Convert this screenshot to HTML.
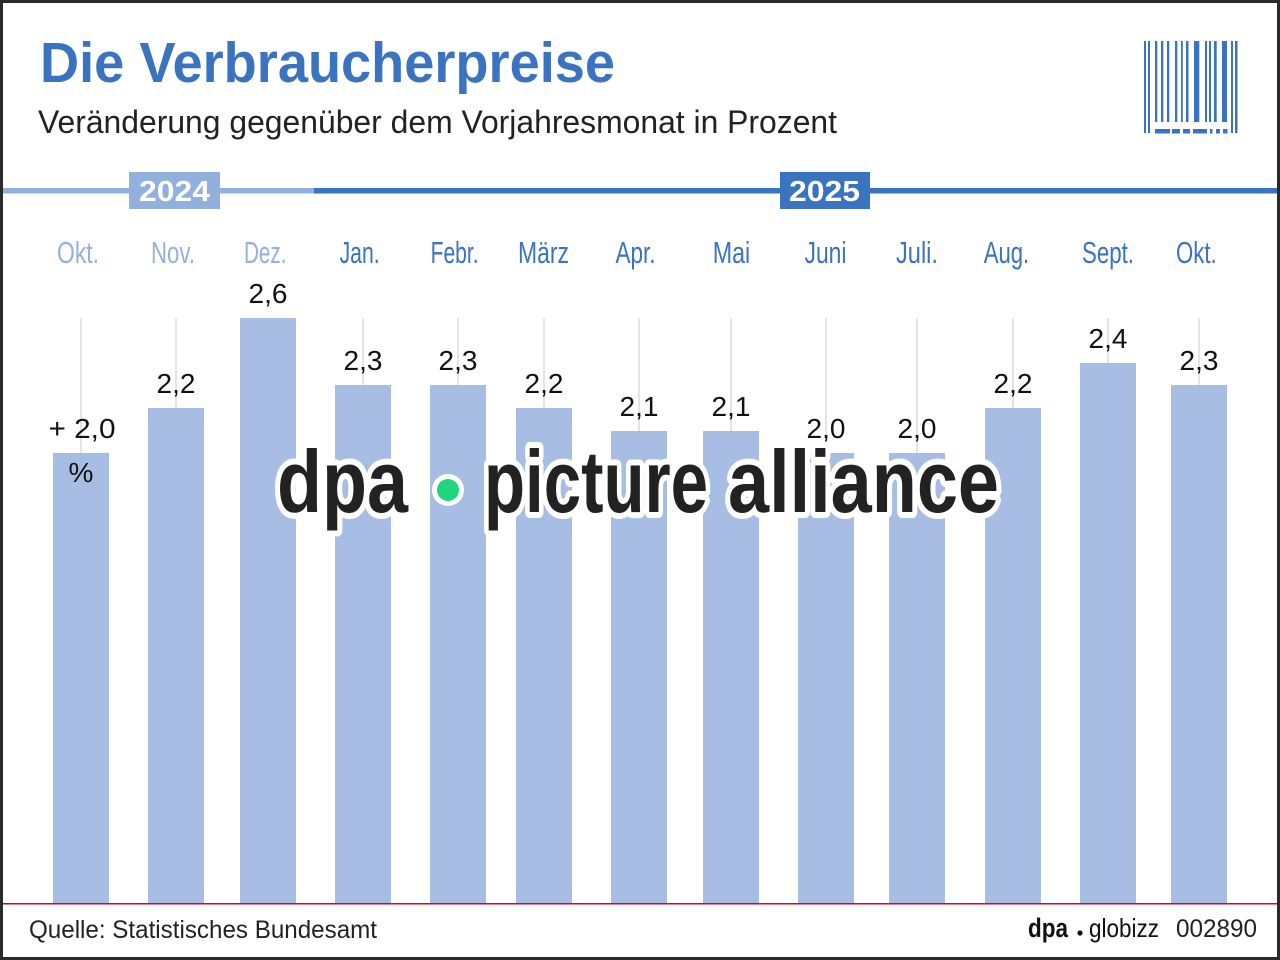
<!DOCTYPE html>
<html>
<head>
<meta charset="utf-8">
<style>
html,body{margin:0;padding:0;background:#fff;}
svg{display:block;}
text{font-family:"Liberation Sans",sans-serif;}
</style>
</head>
<body>
<svg width="1280" height="960" viewBox="0 0 1280 960" xmlns="http://www.w3.org/2000/svg">
<rect x="0" y="0" width="1280" height="960" fill="#fff"/>

<!-- Title -->
<text x="40" y="82" font-size="57" font-weight="bold" fill="#3a73bf" textLength="575" lengthAdjust="spacingAndGlyphs">Die Verbraucherpreise</text>
<text x="38" y="133" font-size="32" fill="#222" textLength="799" lengthAdjust="spacingAndGlyphs">Veränderung gegenüber dem Vorjahresmonat in Prozent</text>

<!-- Barcode -->
<g fill="#3a73bf">
<rect x="1144" y="41" width="2" height="92"/>
<rect x="1148" y="41" width="2" height="92"/>
<rect x="1155" y="41" width="2.3" height="81"/>
<rect x="1161" y="41" width="2.3" height="81"/>
<rect x="1167" y="41" width="2.3" height="81"/>
<rect x="1175" y="41" width="2.3" height="81"/>
<rect x="1181" y="41" width="1.8" height="81"/>
<rect x="1186" y="41" width="2.5" height="81"/>
<rect x="1194" y="41" width="5.3" height="81"/>
<rect x="1205" y="41" width="2" height="81"/>
<rect x="1209" y="41" width="2" height="81"/>
<rect x="1214" y="41" width="2.7" height="81"/>
<rect x="1222" y="41" width="5" height="81"/>
<rect x="1231" y="41" width="2" height="92"/>
<rect x="1235" y="41" width="2.5" height="92"/>
<rect x="1155" y="129" width="15" height="4.5"/>
<rect x="1172" y="129" width="8" height="4.5"/>
<rect x="1183" y="129" width="7" height="4.5"/>
<rect x="1193" y="129" width="14" height="4.5"/>
<rect x="1210" y="129" width="2.5" height="4.5"/>
<rect x="1216" y="129" width="4" height="4.5"/>
<rect x="1223" y="129" width="4.5" height="4.5"/>
</g>

<!-- Year bar -->
<rect x="0" y="188" width="314" height="5.5" fill="#92b0de"/>
<rect x="314" y="188" width="966" height="5.5" fill="#3a73bf"/>
<rect x="129" y="172" width="91" height="37" fill="#92b0de"/>
<text x="139" y="201" font-size="29" font-weight="bold" fill="#fff" textLength="71" lengthAdjust="spacingAndGlyphs">2024</text>
<rect x="780" y="172" width="90" height="37" fill="#3a73bf"/>
<text x="789" y="201" font-size="29" font-weight="bold" fill="#fff" textLength="71" lengthAdjust="spacingAndGlyphs">2025</text>

<!-- Month labels -->
<g font-size="31">
<text x="57" y="263" fill="#92b0e2" textLength="42" lengthAdjust="spacingAndGlyphs">Okt.</text>
<text x="151" y="263" fill="#92b0e2" textLength="44" lengthAdjust="spacingAndGlyphs">Nov.</text>
<text x="244" y="263" fill="#92b0e2" textLength="42.5" lengthAdjust="spacingAndGlyphs">Dez.</text>
<text x="339.6" y="263" fill="#3a73bf" textLength="40" lengthAdjust="spacingAndGlyphs">Jan.</text>
<text x="430.6" y="263" fill="#3a73bf" textLength="48" lengthAdjust="spacingAndGlyphs">Febr.</text>
<text x="518" y="263" fill="#3a73bf" textLength="51" lengthAdjust="spacingAndGlyphs">März</text>
<text x="615.5" y="263" fill="#3a73bf" textLength="40" lengthAdjust="spacingAndGlyphs">Apr.</text>
<text x="712.7" y="263" fill="#3a73bf" textLength="37.5" lengthAdjust="spacingAndGlyphs">Mai</text>
<text x="804.5" y="263" fill="#3a73bf" textLength="42" lengthAdjust="spacingAndGlyphs">Juni</text>
<text x="896" y="263" fill="#3a73bf" textLength="42" lengthAdjust="spacingAndGlyphs">Juli.</text>
<text x="983.7" y="263" fill="#3a73bf" textLength="45.5" lengthAdjust="spacingAndGlyphs">Aug.</text>
<text x="1082" y="263" fill="#3a73bf" textLength="52" lengthAdjust="spacingAndGlyphs">Sept.</text>
<text x="1176" y="263" fill="#3a73bf" textLength="40.7" lengthAdjust="spacingAndGlyphs">Okt.</text>
</g>

<!-- Gridlines -->
<g stroke="#e4e4e4" stroke-width="2">
<line x1="81" y1="318" x2="81" y2="453"/>
<line x1="176" y1="318" x2="176" y2="408"/>
<line x1="363" y1="318" x2="363" y2="385"/>
<line x1="458" y1="318" x2="458" y2="385"/>
<line x1="544" y1="318" x2="544" y2="408"/>
<line x1="639" y1="318" x2="639" y2="431"/>
<line x1="731" y1="318" x2="731" y2="431"/>
<line x1="826" y1="318" x2="826" y2="453"/>
<line x1="917" y1="318" x2="917" y2="453"/>
<line x1="1013" y1="318" x2="1013" y2="408"/>
<line x1="1108" y1="318" x2="1108" y2="363"/>
<line x1="1199" y1="318" x2="1199" y2="385"/>
</g>

<!-- Bars -->
<g fill="#a8bde4">
<rect x="53" y="453" width="56" height="450"/>
<rect x="148" y="408" width="56" height="495"/>
<rect x="240" y="318" width="56" height="585"/>
<rect x="335" y="385" width="56" height="518"/>
<rect x="430" y="385" width="56" height="518"/>
<rect x="516" y="408" width="56" height="495"/>
<rect x="611" y="431" width="56" height="472"/>
<rect x="703" y="431" width="56" height="472"/>
<rect x="798" y="453" width="56" height="450"/>
<rect x="889" y="453" width="56" height="450"/>
<rect x="985" y="408" width="56" height="495"/>
<rect x="1080" y="363" width="56" height="540"/>
<rect x="1171" y="385" width="56" height="518"/>
</g>

<!-- Value labels -->
<g font-size="28" fill="#111" text-anchor="middle">
<text x="82" y="438" textLength="67" lengthAdjust="spacingAndGlyphs">+ 2,0</text>
<text x="81" y="482">%</text>
<text x="176" y="393">2,2</text>
<text x="268" y="303">2,6</text>
<text x="363" y="370">2,3</text>
<text x="458" y="370">2,3</text>
<text x="544" y="393">2,2</text>
<text x="639" y="416">2,1</text>
<text x="731" y="416">2,1</text>
<text x="826" y="438">2,0</text>
<text x="917" y="438">2,0</text>
<text x="1013" y="393">2,2</text>
<text x="1108" y="348">2,4</text>
<text x="1199" y="370">2,3</text>
</g>

<!-- Watermark -->
<g font-size="88" font-weight="bold" fill="#222" stroke="#fff" stroke-width="12" stroke-linejoin="round" paint-order="stroke">
<text x="277" y="512" textLength="131" lengthAdjust="spacingAndGlyphs">dpa</text>
<text x="484" y="512" textLength="224" lengthAdjust="spacingAndGlyphs">picture</text>
<text x="728" y="512" textLength="271" lengthAdjust="spacingAndGlyphs">alliance</text>
</g>
<circle cx="448" cy="490" r="16" fill="#fff"/>
<circle cx="448" cy="490" r="11" fill="#1fd67e"/>

<!-- Footer -->
<rect x="0" y="903" width="1280" height="1.5" fill="#e2001a"/>
<text x="29" y="938" font-size="25" fill="#222" textLength="348" lengthAdjust="spacingAndGlyphs">Quelle: Statistisches Bundesamt</text>
<text x="1028" y="937" font-size="27" font-weight="bold" fill="#111" textLength="40" lengthAdjust="spacingAndGlyphs">dpa</text>
<circle cx="1080" cy="933" r="2.6" fill="#111"/>
<text x="1089" y="937" font-size="26" fill="#111" textLength="70" lengthAdjust="spacingAndGlyphs">globizz</text>
<text x="1176" y="937" font-size="25" fill="#222" textLength="81" lengthAdjust="spacingAndGlyphs">002890</text>

<!-- Frame -->
<rect x="1.5" y="1.5" width="1277" height="957" fill="none" stroke="#2a2a2a" stroke-width="3"/>
</svg>
</body>
</html>
